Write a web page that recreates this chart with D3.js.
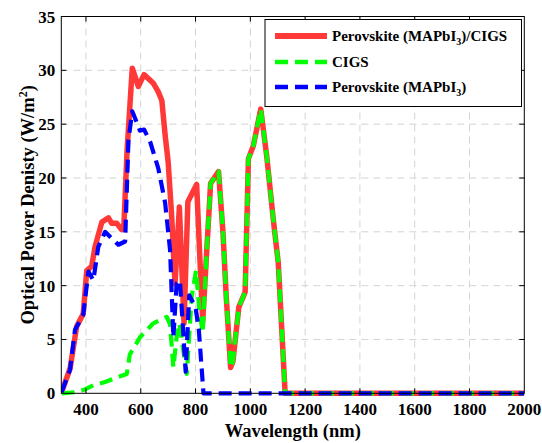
<!DOCTYPE html>
<html><head><meta charset="utf-8">
<script src="https://cdn.jsdelivr.net/npm/d3@7/dist/d3.min.js"></script>
<style>body{margin:0;background:#fff}svg{display:block}</style>
</head><body>
<svg id="c" width="542" height="443"></svg>
<script>
// Data (wavelength nm, optical power density W/m^2)
const tandem = [[311,0.1],[342,2.3],[366,6.2],[390,7.4],[403,11.4],[421,11.8],[433,13.6],[458,15.9],[482,16.3],[494,15.8],[512,15.8],[530,15.2],[538,15.3],[550,22.5],[569,30.2],[591,28.5],[612,29.6],[646,28.8],[664,28.0],[677,27.2],[689,24.0],[700,21.5],[713,16.4],[725,10.2],[741,17.3],[758,6.5],[772,17.8],[804,19.4],[826,6.6],[841,13.3],[855,19.5],[884,20.6],[900,15.0],[912,9.0],[928,2.4],[936,2.9],[958,8.0],[981,9.4],[993,21.8],[1011,23.0],[1038,26.4],[1060,22.0],[1084,16.1],[1102,12.1],[1127,0],[2000,0]];
const cigs = [[311,0],[360,0.1],[390,0.3],[427,0.75],[470,1.05],[506,1.4],[549,1.8],[560,3.6],[597,5.2],[646,6.5],[695,7.1],[707,6.4],[719,2.4],[731,5.2],[741,6.5],[768,1.8],[786,9.0],[802,11.4],[813,8.0],[826,5.6],[841,13.3],[855,19.5],[884,20.6],[900,15.0],[912,9.0],[928,2.4],[936,2.9],[958,8.0],[981,9.4],[993,21.8],[1011,23.0],[1038,26.4],[1060,22.0],[1084,16.1],[1102,12.1],[1127,0],[2000,0]];
const perov = [[311,0.1],[342,2.2],[360,5.9],[390,7.3],[409,11.3],[427,10.5],[445,13.6],[470,15.0],[494,14.4],[518,13.8],[543,14.1],[555,23.5],[569,26.2],[597,24.4],[612,24.5],[634,23.4],[664,20.9],[689,17.7],[707,13.3],[719,5.2],[731,10.2],[743,10.5],[764,2.0],[777,9.1],[800,8.0],[812,5.9],[829,0],[2000,0]];
const xTicks = [400,600,800,1000,1200,1400,1600,1800,2000];
const yTicks = [0,5,10,15,20,25,30,35];
const seriesNames = ["Perovskite (MAPbI|3|)/CIGS","CIGS","Perovskite (MAPbI|3|)"];

const svg = d3.select("#c");
const L = 61.3, R = 524.3, T = 16.5, B = 393.3;
const x = d3.scaleLinear().domain([310,2000]).range([L,R]);
const y = d3.scaleLinear().domain([0,35]).range([B,T]);
const font = "'Liberation Serif','Times New Roman',serif";

svg.append("rect").attr("width",542).attr("height",443).attr("fill","#fff");

// grid
const g = svg.append("g");
g.selectAll(".gx").data(xTicks.filter(d=>d<2000)).join("line")
  .attr("x1",d=>x(d)).attr("x2",d=>x(d)).attr("y1",T).attr("y2",B)
  .attr("stroke","#d4d4d4").attr("stroke-width",1).attr("stroke-dasharray","7,5");
g.selectAll(".gy").data(yTicks.filter(d=>d>0&&d<35)).join("line")
  .attr("y1",d=>y(d)).attr("y2",d=>y(d)).attr("x1",L).attr("x2",R)
  .attr("stroke","#d4d4d4").attr("stroke-width",1).attr("stroke-dasharray","7,5");

svg.append("clipPath").attr("id","clip").append("rect")
  .attr("x",L).attr("y",T-4).attr("width",R-L).attr("height",B-T+8);

const line = d3.line().x(d=>x(d[0])).y(d=>y(d[1]));
const lg = svg.append("g").attr("clip-path","url(#clip)");
lg.append("path").attr("d",line(tandem)).attr("fill","none")
  .attr("stroke","#ff3838").attr("stroke-width",5.5).attr("stroke-linejoin","round");
lg.append("path").attr("d",line(cigs)).attr("fill","none")
  .attr("stroke","#00ff00").attr("stroke-width",4.2).attr("stroke-dasharray","13,7").attr("stroke-linejoin","round");
lg.append("path").attr("d",line(perov)).attr("fill","none")
  .attr("stroke","#0000ff").attr("stroke-width",4.2).attr("stroke-dasharray","13,7").attr("stroke-linejoin","round");

// axes box
svg.append("rect").attr("x",L).attr("y",T).attr("width",R-L).attr("height",B-T)
  .attr("fill","none").attr("stroke","#000").attr("stroke-width",1);

// ticks
const ax = svg.append("g");
const xt = xTicks.filter(d=>d<2000);
ax.selectAll(".tb").data(xt).join("line").attr("x1",d=>x(d)).attr("x2",d=>x(d)).attr("y1",B).attr("y2",B-5).attr("stroke","#000");
ax.selectAll(".tt").data(xt).join("line").attr("x1",d=>x(d)).attr("x2",d=>x(d)).attr("y1",T).attr("y2",T+5).attr("stroke","#000");
const yt = yTicks.filter(d=>d>0&&d<35);
ax.selectAll(".tl").data(yt).join("line").attr("y1",d=>y(d)).attr("y2",d=>y(d)).attr("x1",L).attr("x2",L+5).attr("stroke","#000");
ax.selectAll(".tr").data(yt).join("line").attr("y1",d=>y(d)).attr("y2",d=>y(d)).attr("x1",R).attr("x2",R-5).attr("stroke","#000");

ax.selectAll(".xl").data(xTicks).join("text").attr("x",d=>x(d)).attr("y",B+22)
  .attr("text-anchor","middle").attr("font-family",font).attr("font-weight","bold").attr("font-size",17).text(d=>d);
ax.selectAll(".yl").data(yTicks).join("text").attr("x",L-6).attr("y",d=>y(d)+6)
  .attr("text-anchor","end").attr("font-family",font).attr("font-weight","bold").attr("font-size",17).text(d=>d);

svg.append("text").attr("x",(L+R)/2).attr("y",437).attr("text-anchor","middle")
  .attr("font-family",font).attr("font-weight","bold").attr("font-size",18.5).text("Wavelength (nm)");
const yl = svg.append("text").attr("transform",`translate(34,${(T+B)/2}) rotate(-90)`).attr("text-anchor","middle")
  .attr("font-family",font).attr("font-weight","bold").attr("font-size",18.5);
yl.append("tspan").text("Optical Power Denisty (W/m");
yl.append("tspan").attr("font-size",12).attr("dy",-7).text("2");
yl.append("tspan").attr("dy",7).text(")");

// legend
const leg = svg.append("g");
leg.append("rect").attr("x",265).attr("y",19.5).attr("width",256.5).attr("height",87)
  .attr("fill","#fff").attr("stroke","#000").attr("stroke-width",1);
const rows = [
  {name:seriesNames[0], color:"#ff3838", w:6, dash:null, y:36},
  {name:seriesNames[1], color:"#00ff00", w:4.5, dash:"13,7", y:62},
  {name:seriesNames[2], color:"#0000ff", w:4.5, dash:"13,7", y:87}
];
rows.forEach(r=>{
  leg.append("line").attr("x1",275).attr("x2",327).attr("y1",r.y).attr("y2",r.y)
    .attr("stroke",r.color).attr("stroke-width",r.w).attr("stroke-dasharray",r.dash);
  const t = leg.append("text").attr("x",332).attr("y",r.y+5).attr("font-family",font)
    .attr("font-weight","bold").attr("font-size",15);
  const parts = r.name.split("|");
  parts.forEach((p,i)=>{
    if(i%2===1){ t.append("tspan").attr("font-size",10).attr("dy",4).text(p); }
    else { const s=t.append("tspan").text(p); if(i>0) s.attr("dy",-4); }
  });
});
</script>
</body></html>
